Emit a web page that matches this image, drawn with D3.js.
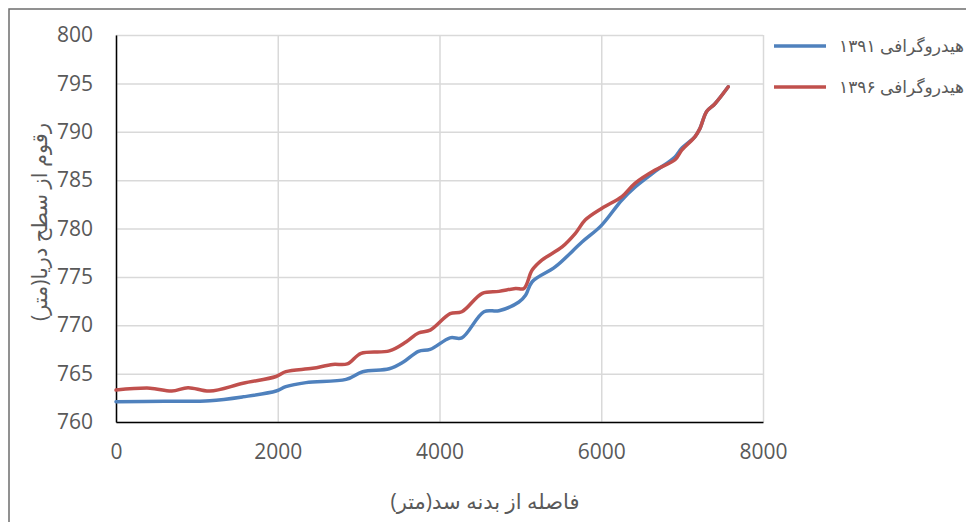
<!DOCTYPE html>
<html>
<head>
<meta charset="utf-8">
<script src="https://cdn.jsdelivr.net/npm/d3@7"></script>
<style>
  body { margin: 0; background: #fff; }
  text { font-family: "Open Sans", "DejaVu Sans", sans-serif; fill: #595959; }
</style>
</head>
<body>
<div id="chart"></div>
<script>
// distances from the dam (m) and bed elevations (m)
const dist1391 = [0, 600, 1160, 1570, 1980, 2100, 2350, 2845, 3050, 3378, 3553, 3740, 3885, 4131, 4276, 4550, 4735, 4982, 5064, 5146, 5434, 5762, 6000, 6255, 6420, 6666, 6912, 6995, 7160, 7221, 7303, 7406, 7570];
const elev1391 = [762.1, 762.15, 762.2, 762.6, 763.2, 763.65, 764.07, 764.4, 765.2, 765.5, 766.2, 767.3, 767.5, 768.7, 768.7, 771.4, 771.5, 772.4, 773.1, 774.5, 776.05, 778.6, 780.3, 782.95, 784.3, 785.9, 787.4, 788.3, 789.5, 790.35, 792.1, 792.9, 794.65];

const dist1396 = [0, 420, 690, 890, 1160, 1570, 1980, 2100, 2430, 2680, 2860, 3030, 3380, 3590, 3740, 3885, 4131, 4276, 4529, 4735, 4940, 5043, 5146, 5269, 5516, 5680, 5804, 6009, 6255, 6420, 6666, 6912, 6995, 7160, 7221, 7303, 7406, 7570];
const elev1396 = [763.3, 763.5, 763.2, 763.55, 763.2, 764.0, 764.7, 765.2, 765.55, 765.95, 766.0, 767.1, 767.35, 768.3, 769.2, 769.5, 771.2, 771.4, 773.3, 773.5, 773.8, 773.8, 775.7, 776.75, 778.1, 779.5, 780.9, 782.1, 783.3, 784.7, 786.05, 787.1, 788.1, 789.5, 790.35, 792.1, 792.9, 794.65];

const seriesNames = ["هیدروگرافی ۱۳۹۱", "هیدروگرافی ۱۳۹۶"];
const seriesColors = ["#4F81BD", "#C0504D"];
const xTicks = [0, 2000, 4000, 6000, 8000];
const yTicks = [760, 765, 770, 775, 780, 785, 790, 795, 800];
const xTitle = "فاصله از بدنه سد(متر)";
const yTitle = "رقوم از سطح دریا(متر)";

const width = 966, height = 522;
const margin = {left: 116, top: 35, right: 203, bottom: 100};

const svg = d3.select("#chart").append("svg")
  .attr("width", width).attr("height", height);

// outer chart frame
svg.append("path")
  .attr("d", "M9," + height + "V9H" + width)
  .attr("fill", "none")
  .attr("stroke", "#6e6e6e")
  .attr("stroke-width", 1.5);

const x = d3.scaleLinear().domain([0, 8000]).range([margin.left, width - margin.right]);
const y = d3.scaleLinear().domain([760, 800]).range([height - margin.bottom, margin.top]);

// grid
svg.append("g")
  .attr("transform", "translate(0," + y(760) + ")")
  .call(d3.axisBottom(x).tickValues(xTicks).tickSize(-(y(760) - y(800))).tickFormat(""))
  .call(g => g.select(".domain").remove())
  .selectAll("line").attr("stroke", "#d9d9d9").attr("stroke-width", 1.5);

svg.append("g")
  .attr("transform", "translate(" + x(0) + ",0)")
  .call(d3.axisLeft(y).tickValues(yTicks).tickSize(-(x(8000) - x(0))).tickFormat(""))
  .call(g => g.select(".domain").remove())
  .selectAll("line").attr("stroke", "#d9d9d9").attr("stroke-width", 1.5);

// axes
const xAxis = svg.append("g")
  .attr("transform", "translate(0," + y(760) + ")")
  .call(d3.axisBottom(x).tickValues(xTicks).tickSize(0).tickPadding(22).tickFormat(d3.format("d")));
xAxis.select(".domain").attr("stroke", "#000").attr("stroke-width", 1.5);

const yAxis = svg.append("g")
  .attr("transform", "translate(" + x(0) + ",0)")
  .call(d3.axisLeft(y).tickValues(yTicks).tickSize(0).tickPadding(23).tickFormat(d3.format("d")));
yAxis.select(".domain").attr("stroke", "#000").attr("stroke-width", 1.5);

svg.selectAll(".tick text")
  .style("font-size", "21px")
  .attr("fill", "#595959");

// lines
const series = [
  d3.zip(dist1391, elev1391),
  d3.zip(dist1396, elev1396)
];
const line = d3.line()
  .x(d => x(d[0]))
  .y(d => y(d[1]))
  .curve(d3.curveCatmullRom.alpha(0.5));

series.forEach((s, i) => {
  svg.append("path")
    .datum(s)
    .attr("fill", "none")
    .attr("stroke", seriesColors[i])
    .attr("stroke-width", 3.5)
    .attr("stroke-linejoin", "round")
    .attr("stroke-linecap", "round")
    .attr("d", line);
});

// titles
svg.append("text")
  .attr("x", 485).attr("y", 509)
  .attr("text-anchor", "middle")
  .style("font-size", "21px")
  .text(xTitle);

svg.append("text")
  .attr("transform", "translate(47,222) rotate(-90)")
  .attr("text-anchor", "middle")
  .style("font-size", "21px")
  .text(yTitle);

// legend
const legend = svg.append("g");
seriesNames.forEach((name, i) => {
  const ly = 46 + i * 41;
  legend.append("line")
    .attr("x1", 774).attr("x2", 826)
    .attr("y1", ly).attr("y2", ly)
    .attr("stroke", seriesColors[i])
    .attr("stroke-width", 3.5);
  legend.append("text")
    .attr("x", 964).attr("y", ly + 6)
    .attr("text-anchor", "end")
    .style("font-size", "17px")
    .text(name);
});
</script>
</body>
</html>
